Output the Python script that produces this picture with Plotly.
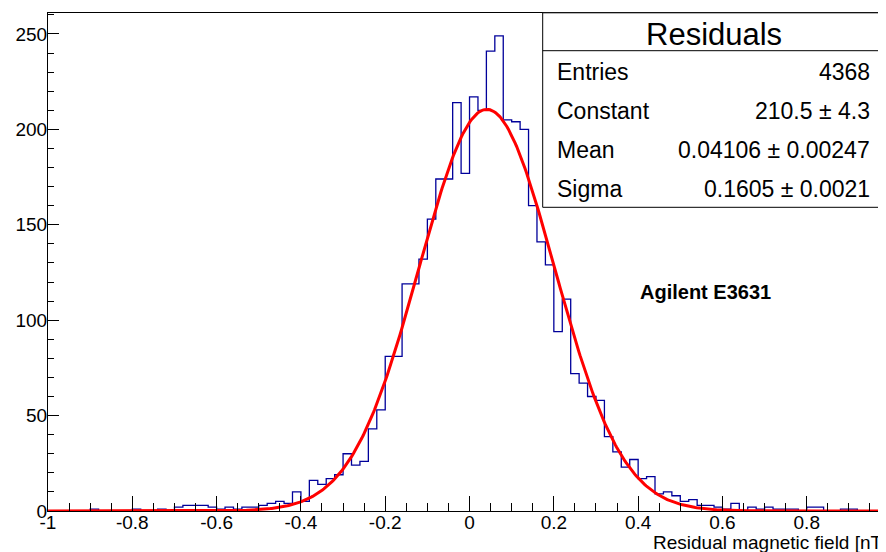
import numpy as np
import plotly.graph_objects as go

# ---------------- data ----------------
bin_low = -1.0
bin_width = 0.02
counts = [
    0, 0, 0, 0, 0, 1, 0, 0, 0, 0,
    1, 0, 0, 1, 0, 2, 3, 3, 3, 2,
    1, 2, 1, 2, 2, 3, 4, 5, 4, 10,
    5, 16, 14, 17, 19, 30, 24, 26, 43, 53,
    81, 81, 119, 119, 132, 153, 174, 174, 214, 177,
    217, 210, 241, 249, 205, 204, 200, 160, 141, 129,
    94, 111, 72, 67, 60, 58, 39, 31, 23, 27,
    17, 18, 9, 10, 8, 5, 6, 3, 3, 2,
    1, 4, 0, 2, 1, 2, 1, 1, 1, 0,
    2, 2, 0, 0, 1, 1, 0, 0, 0, 0,
]
fit_constant = 210.5
fit_mean = 0.04106
fit_sigma = 0.1605

stats_title = "Residuals"
stats_labels = ["Entries", "Constant", "Mean", "Sigma"]
stats_values = ["4368", "210.5 \u00b1 4.3", "0.04106 \u00b1 0.00247", "0.1605 \u00b1 0.0021"]

x_tickvals = [-1, -0.8, -0.6, -0.4, -0.2, 0, 0.2, 0.4, 0.6, 0.8]
x_ticktext = ["-1", "-0.8", "-0.6", "-0.4", "-0.2", "0", "0.2", "0.4", "0.6", "0.8"]
y_tickvals = [0, 50, 100, 150, 200, 250]
y_ticktext = ["0", "50", "100", "150", "200", "250"]

x_title = "Residual magnetic field [nT]"
label_text = "Agilent E3631"

# ---------------- build ----------------
n = len(counts)
edges = [bin_low + bin_width * k for k in range(n + 1)]
hx = edges
hy = counts + [counts[-1]]

xf = np.linspace(edges[0], edges[-1], 600)
yf = fit_constant * np.exp(-0.5 * ((xf - fit_mean) / fit_sigma) ** 2)

FONT = "Liberation Sans, Arial, Helvetica, sans-serif"

fig = go.Figure()
fig.add_trace(go.Scatter(x=hx, y=hy, mode="lines", line=dict(shape="hv", color="#00009a", width=1.3),
                         showlegend=False, hoverinfo="skip"))
fig.add_trace(go.Scatter(x=xf, y=yf, mode="lines", line=dict(color="#ff0000", width=3),
                         showlegend=False, hoverinfo="skip"))

# page has an 8px body margin, so the figure is a bit smaller than the window
OFF = 8
W, H = 886 - OFF, 552 - OFF
PL, PT, PR, PB = 48, 13, 886, 511          # plot frame in page pixels
ml, mt = PL - OFF, PT - OFF
mr = 0
mb = (H + OFF) - PB
pw, ph = PR - PL, PB - PT


def px(xp):
    return (xp - PL) / pw


def py(yp):
    return (PB - yp) / ph


fig.update_layout(
    width=W, height=H,
    margin=dict(l=ml, r=mr, t=mt, b=mb, pad=0, autoexpand=False),
    paper_bgcolor="white", plot_bgcolor="white",
    font=dict(family=FONT, color="black", size=19),
    xaxis=dict(range=[-1, 0.988], showgrid=False, zeroline=False,
               showline=True, linecolor="black", linewidth=1, mirror=True,
               tickmode="array", tickvals=x_tickvals, ticktext=x_ticktext,
               ticks="inside", ticklen=15, tickcolor="black", tickwidth=1,
               ticklabelstandoff=-6,
               tickfont=dict(size=19, family=FONT),
               minor=dict(dtick=0.05, tick0=-1, ticks="inside", ticklen=8, tickcolor="black", showgrid=False)),
    yaxis=dict(range=[0, 261], showgrid=False, zeroline=False,
               showline=True, linecolor="black", linewidth=1, mirror=False,
               tickmode="array", tickvals=y_tickvals, ticktext=y_ticktext,
               ticks="inside", ticklen=11, tickcolor="black", tickwidth=1,
               ticklabelstandoff=-4,
               tickfont=dict(size=19, family=FONT),
               minor=dict(dtick=10, tick0=0, ticks="inside", ticklen=6, tickcolor="black", showgrid=False)),
)

# stats box
bx0, bx1 = px(542.7), px(885.3)
by0, by1 = py(207.3), py(12.8)
fig.add_shape(type="rect", xref="paper", yref="paper", x0=bx0, x1=bx1, y0=by0, y1=by1,
              line=dict(color="black", width=1), fillcolor="white", layer="above")
fig.add_shape(type="line", xref="paper", yref="paper", x0=bx0, x1=bx1, y0=py(50.7), y1=py(50.7),
              line=dict(color="black", width=1), layer="above")
fig.add_annotation(xref="paper", yref="paper", x=px(714), y=py(35), text=stats_title, showarrow=False,
                   xanchor="center", yanchor="middle", font=dict(size=31, family=FONT))
row_y = [71.7, 110.8, 150.0, 189.0]
for lab, val, ry in zip(stats_labels, stats_values, row_y):
    fig.add_annotation(xref="paper", yref="paper", x=px(555), y=py(ry), text=lab, showarrow=False,
                       xanchor="left", yanchor="middle", font=dict(size=23, family=FONT))
    fig.add_annotation(xref="paper", yref="paper", x=px(872), y=py(ry), text=val, showarrow=False,
                       xanchor="right", yanchor="middle", font=dict(size=23, family=FONT))

fig.add_annotation(xref="paper", yref="paper", x=px(705.3), y=py(291.7), text="<b>" + label_text + "</b>",
                   showarrow=False, xanchor="center", yanchor="middle", font=dict(size=20, family=FONT))

fig.add_annotation(xref="paper", yref="paper", x=px(650.7), y=py(542.0), text=x_title, showarrow=False,
                   xanchor="left", yanchor="middle", font=dict(size=19, family=FONT))

fig.write_html("out.html")
